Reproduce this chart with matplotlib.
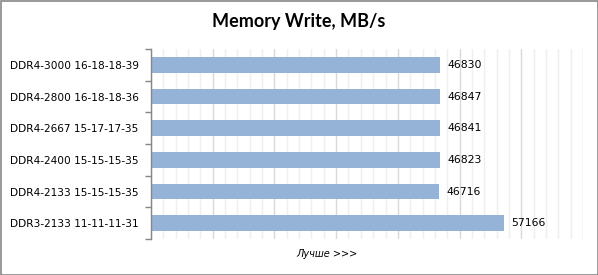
import matplotlib
matplotlib.use("Agg")
import matplotlib.pyplot as plt
from matplotlib.ticker import MultipleLocator
from matplotlib.patches import Rectangle

categories = [
    "DDR4-3000 16-18-18-39",
    "DDR4-2800 16-18-18-36",
    "DDR4-2667 15-17-17-35",
    "DDR4-2400 15-15-15-35",
    "DDR4-2133 15-15-15-35",
    "DDR3-2133 11-11-11-31",
]
values = [46830, 46847, 46841, 46823, 46716, 57166]
title = "Memory Write, MB/s"
xlabel = "Лучше >>>"

fig = plt.figure(figsize=(5.98, 2.75), dpi=100)
ax = fig.add_axes([151 / 598, 1 - 239 / 275, 432 / 598, 190 / 275])

y = list(range(len(categories)))
ax.barh(y, values, height=0.5, color="#95B3D7", zorder=3)
ax.set_ylim(len(categories) - 0.5, -0.5)
ax.set_xlim(0, 70000)

for yi, v in zip(y, values):
    ax.text(v + 1200, yi, str(v), va="center", ha="left", fontsize=7.8,
            family="DejaVu Sans", color="#000000")

# category boundary ticks on the left axis
ax.set_yticks([i - 0.5 for i in range(len(categories) + 1)], minor=False)
ax.set_yticklabels([])
ax.set_yticks(y, minor=True)
ax.set_yticklabels(categories, minor=True, fontsize=7.6, family="DejaVu Sans")
ax.tick_params(axis="y", which="major", length=4, width=1, color="#868686", direction="out")
ax.tick_params(axis="y", which="minor", length=0, pad=9)

ax.xaxis.set_major_locator(MultipleLocator(10000))
ax.xaxis.set_minor_locator(MultipleLocator(2000))
ax.tick_params(axis="x", which="both", length=0, labelbottom=False)
ax.grid(axis="x", which="major", color="#D9D9D9", linewidth=1, zorder=0)
ax.grid(axis="x", which="minor", color="#EFEFEF", linewidth=1, zorder=0)

for side in ("top", "right", "bottom"):
    ax.spines[side].set_visible(False)
ax.spines["left"].set_color("#868686")
ax.spines["left"].set_linewidth(1)
ax.spines["left"].set_zorder(4)

fig.text(299 / 598, 1 - 22 / 275, title, ha="center", va="center",
         fontsize=13, fontweight="bold", family="Lato")
fig.text(327 / 598, 1 - 254 / 275, xlabel, ha="center", va="center",
         fontsize=7, style="italic", family="DejaVu Sans")

fig.patches.append(Rectangle((0.5 / 598, 0.5 / 275), 597 / 598, 274 / 275,
                             transform=fig.transFigure, fill=False,
                             edgecolor="#888888", linewidth=1.2))

fig.savefig("out.png", dpi=100)
